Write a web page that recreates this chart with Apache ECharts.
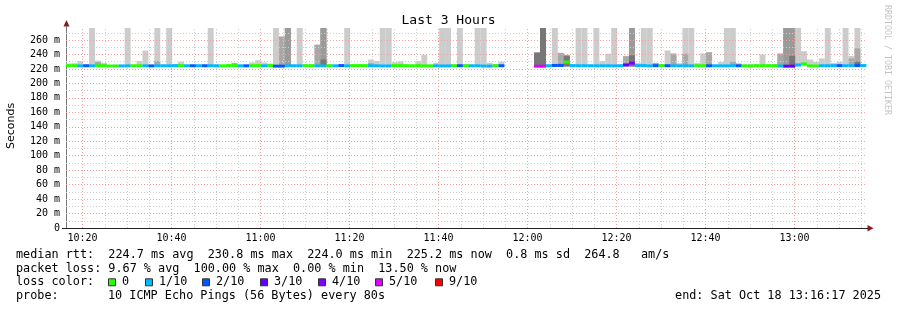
<!DOCTYPE html>
<html><head><meta charset="utf-8">
<script src="https://cdn.jsdelivr.net/npm/echarts@6/dist/echarts.min.js"></script>
<style>html,body{margin:0;padding:0;background:#fff}#c{width:897px;height:310px}</style>
</head><body><div id="c"></div>
<script>
const _ = null;
// time frame (minutes after midnight)
const startMin = 10*60 + 16 + 17/60;      // 10:16:17
const endMin = startMin + 180;            // 13:16:17
const firstStepMin = 10*60 + 16 + 8/60;   // first RRD step start
const stepMin = 80/60;                    // 80 s step
const tickLabels = ['10:20','10:40','11:00','11:20','11:40','12:00','12:20','12:40','13:00'];
const yTickValues = [0,20,40,60,80,100,120,140,160,180,200,220,240,260];
const yMax = 276.6;
const smokeFloor = 223.5;

// median rtt (ms) per step
const medianRtt = [
224.5,224.5,224.2,224.4,224.3,224.5,224.5,224.0,224.0,224.2,
224.2,224.4,224.4,224.3,224.2,224.3,224.3,224.3,224.5,224.6,
224.3,224.4,224.4,224.4,224.4,224.2,224.3,224.6,224.6,224.2,
224.3,224.5,224.5,224.3,224.6,223.9,223.9,224.3,224.3,224.3,
224.5,224.5,224.2,224.2,224.5,224.3,224.6,224.2,224.6,224.6,
224.6,224.3,224.3,224.1,224.1,224.6,224.6,224.5,224.3,224.6,
224.2,224.2,224.3,224.1,224.1,224.5,224.4,224.5,224.3,224.3,
224.0,223.9,224.5,224.4,_,_,_,_,_,223.8,
223.8,224.4,224.8,224.8,229.5,224.6,224.4,224.4,224.4,224.3,
224.3,224.3,224.2,224.4,225.5,228.0,224.6,224.6,224.2,224.5,
224.6,224.4,224.3,224.3,224.2,224.2,224.5,224.5,224.3,224.3,
224.2,224.2,224.4,224.4,224.3,224.0,224.5,224.5,224.5,224.5,
224.0,223.8,223.8,225.5,227.0,224.3,224.0,224.4,224.4,224.4,
224.5,224.4,224.4,224.6,224.6];

// lost pings out of 10 per step
const lossCount = [
0,0,1,2,1,0,0,0,0,1,
1,0,0,1,2,1,1,1,1,0,
1,2,1,2,1,1,0,0,0,1,
2,0,0,1,0,2,2,1,1,1,
0,0,1,1,0,1,2,1,0,0,
0,1,1,1,1,0,0,0,0,0,
0,0,1,1,1,0,2,0,1,1,
1,1,0,2,10,10,10,10,10,5,
5,1,2,2,0,1,1,1,1,1,
1,1,1,1,3,4,1,1,1,2,
0,2,1,1,1,1,0,0,2,1,
1,1,1,2,0,0,0,0,0,0,
1,3,3,1,0,0,0,1,1,1,
2,1,1,2,1];

// smoke layers: top of each layer (ms), outermost (lightest) first
const smokeOuter = [
227.5,228,231,226,300,231.5,228.5,225.5,226,225.5,
300,225.5,231,245.5,225.5,300,226,300,226.5,230,
226,225.5,226,225.5,300,226.5,225.5,226,228.5,226,
225.5,229,232,229,227.5,300,265,300,226,300,
226,226,253.5,300,226,225.5,225.5,300,225.5,225.5,
225.5,233,231,300,300,229.5,230.5,226,226,231,
239.5,226,228.5,300,300,226,300,226.5,226,300,
300,228.5,226.5,230,_,_,_,_,_,242.5,
300,226,300,242.5,239.5,226,300,300,226,300,
231,241,300,226,238,300,228,300,300,228.5,
226,245.5,241.5,228,300,300,228,241.5,243,226,
229.5,300,300,228,226,227,226,240,226,226.5,
241.5,300,300,300,244.5,233,230,234.5,300,228,
230,300,238,300,227];
const smokeSecond = [
_,_,_,_,_,229.5,_,_,_,_,
_,_,_,_,_,231,_,_,_,_,
_,_,_,_,_,_,_,_,228,_,
_,_,_,_,_,_,264.5,300,_,_,
_,_,253.5,300,_,_,_,_,_,_,
_,228,_,_,_,_,_,_,_,_,
_,_,_,_,_,_,_,_,_,_,
_,_,_,_,_,_,_,_,_,242.5,
300,_,_,242,239,_,_,_,_,_,
_,_,_,_,237.5,300,_,_,_,228,
_,_,241,_,241,_,_,_,243,_,
_,_,230,_,_,_,_,_,_,_,
241,300,300,_,_,_,_,_,_,227,
_,_,234.5,248.5,_];
const smokeThird = [
_,_,_,_,_,_,_,_,_,_,
_,_,_,_,_,_,_,_,_,_,
_,_,_,_,_,_,_,_,_,_,
_,_,_,_,_,_,_,300,_,_,
_,_,_,300,_,_,_,_,_,_,
_,_,_,_,_,_,_,_,_,_,
_,_,_,_,_,_,_,_,_,_,
_,_,_,_,_,_,_,_,_,242.5,
300,_,_,_,238.5,_,_,_,_,_,
_,_,_,_,_,300,_,_,_,_,
_,_,_,_,_,_,_,_,_,_,
_,_,_,_,_,_,_,_,_,_,
_,300,300,_,_,_,_,_,_,_,
_,_,_,_,_];
const smokeInner = [
_,_,_,_,_,_,_,_,_,_,
_,_,_,_,_,_,_,_,_,_,
_,_,_,_,_,_,_,_,_,_,
_,_,_,_,_,_,_,_,_,_,
_,_,_,233,_,_,_,_,_,_,
_,_,_,_,_,_,_,_,_,_,
_,_,_,_,_,_,_,_,_,_,
_,_,_,_,_,_,_,_,_,242.5,
300,_,_,_,238,_,_,_,_,_,
_,_,_,_,_,239,_,_,_,_,
_,_,_,_,_,_,_,_,_,_,
_,_,_,_,_,_,_,_,_,_,
_,_,238,_,_,_,_,_,_,_,
_,_,_,230,_];

const statLines = [
  'median rtt:  224.7 ms avg  230.8 ms max  224.0 ms min  225.2 ms now  0.8 ms sd  264.8   am/s',
  'packet loss: 9.67 % avg  100.00 % max  0.00 % min  13.50 % now'
];
const lossLegendLabels = ['0','1/10','2/10','3/10','4/10','5/10','9/10'];
const lossLegendColors = ['#26ff00','#00b8ff','#0059ff','#5e00ff','#7e00ff','#dd00ff','#ff0000'];
const probeText = '10 ICMP Echo Pings (56 Bytes) every 80s';
const endText = 'end: Sat Oct 18 13:16:17 2025';

// ---------- rendering ----------
const lossColorFor = n => n >= 9 ? '#ff0000' : n >= 5 ? '#dd00ff' : lossLegendColors[n];
const toMin = s => { const p = s.split(':'); return (+p[0])*60 + (+p[1]); };
const fmtMin = v => { const h = Math.floor(v/60), m = Math.round(v - h*60); return String(h).padStart(2,'0') + ':' + String(m).padStart(2,'0'); };
const tickMins = tickLabels.map(toMin);

function layerData(tops) {
  const out = [];
  tops.forEach((t, i) => {
    if (t == null) return;
    const t0 = firstStepMin + i*stepMin;
    out.push([t0, t0 + stepMin, smokeFloor, t]);
  });
  return out;
}
const medData = [];
medianRtt.forEach((m, i) => {
  if (m == null) return;
  const t0 = firstStepMin + i*stepMin;
  medData.push([t0, t0 + stepMin, m, lossCount[i]]);
});

function rectRender(color) {
  return function (params, api) {
    const a = api.coord([api.value(0), api.value(3)]);
    const b = api.coord([api.value(1), api.value(2)]);
    return { type: 'rect', shape: { x: a[0], y: a[1], width: b[0]-a[0], height: b[1]-a[1] },
             style: { fill: color } };
  };
}
function medRender(params, api) {
  const a = api.coord([api.value(0), api.value(2)]);
  const b = api.coord([api.value(1), api.value(2)]);
  return { type: 'rect', shape: { x: a[0], y: a[1]-1.5, width: b[0]-a[0], height: 3 },
           style: { fill: lossColorFor(api.value(3)) } };
}

// grid lines
const gridLines = [];
const redStyle = { color: '#f2a0a0', width: 1, type: [1, 2] };
const grayStyle = { color: '#cfcfcf', width: 1, type: [1, 2] };
for (let m = Math.ceil(startMin/5)*5; m <= endMin; m += 5) {
  gridLines.push({ xAxis: m, lineStyle: (m % 20 === 0) ? redStyle : grayStyle });
}
for (let v = 10; v < yMax; v += 10) {
  gridLines.push({ yAxis: v, lineStyle: (v % 20 === 0) ? redStyle : grayStyle });
}

const mono = "'DejaVu Sans Mono', monospace";
const FS = 11.8;
const graphics = [];
const lineY = [255, 268.5, 282.3, 296];
statLines.forEach((s, k) => graphics.push({ type: 'text', x: 16, y: lineY[k],
  style: { text: s, font: FS + 'px ' + mono, fill: '#000', textVerticalAlign: 'middle', verticalAlign: 'middle' } }));
graphics.push({ type: 'text', x: 16, y: lineY[2],
  style: { text: 'loss color:', font: FS + 'px ' + mono, fill: '#000', textVerticalAlign: 'middle', verticalAlign: 'middle' } });
const boxX = [108, 145, 202, 260, 318, 375, 435];
lossLegendLabels.forEach((lab, k) => {
  graphics.push({ type: 'rect', shape: { x: boxX[k] + 0.5, y: lineY[2] - 3.5, width: 7, height: 7 },
    style: { fill: lossLegendColors[k], stroke: '#333', lineWidth: 1 } });
  graphics.push({ type: 'text', x: boxX[k] + 14, y: lineY[2],
    style: { text: lab, font: FS + 'px ' + mono, fill: '#000', textVerticalAlign: 'middle', verticalAlign: 'middle' } });
});
graphics.push({ type: 'text', x: 16, y: lineY[3],
  style: { text: 'probe:', font: FS + 'px ' + mono, fill: '#000', textVerticalAlign: 'middle', verticalAlign: 'middle' } });
graphics.push({ type: 'text', x: 108, y: lineY[3],
  style: { text: probeText, font: FS + 'px ' + mono, fill: '#000', textVerticalAlign: 'middle', verticalAlign: 'middle' } });
graphics.push({ type: 'text', x: 881, y: lineY[3],
  style: { text: endText, font: FS + 'px ' + mono, fill: '#000', textAlign: 'right', align: 'right', textVerticalAlign: 'middle', verticalAlign: 'middle' } });
graphics.push({ type: 'text', x: 11, y: 126, rotation: Math.PI/2,
  style: { text: 'Seconds', font: "11px 'DejaVu Sans', sans-serif", fill: '#000', textAlign: 'center', align: 'center', textVerticalAlign: 'middle', verticalAlign: 'middle' } });
graphics.push({ type: 'text', x: 887.5, y: 60, rotation: -Math.PI/2,
  style: { text: 'RRDTOOL / TOBI OETIKER', font: '8.3px ' + mono, fill: '#c4c4c4', textAlign: 'center', align: 'center', textVerticalAlign: 'middle', verticalAlign: 'middle' } });
graphics.push({ type: 'polygon', shape: { points: [[63.5, 26.5], [69.5, 26.5], [66.5, 20]] }, style: { fill: '#8b1a1a' } });
graphics.push({ type: 'polygon', shape: { points: [[867.5, 225], [867.5, 231.5], [873.5, 228.2]] }, style: { fill: '#8b1a1a' } });
graphics.push({ type: 'line', shape: { x1: 66.5, y1: 26, x2: 66.5, y2: 228 }, style: { stroke: '#777', lineWidth: 1 } });
graphics.push({ type: 'line', shape: { x1: 62, y1: 228.5, x2: 868, y2: 228.5 }, style: { stroke: '#222', lineWidth: 1 } });

const chart = echarts.init(document.getElementById('c'), null, { renderer: 'canvas' });
chart.setOption({
  animation: false,
  backgroundColor: '#ffffff',
  title: { text: 'Last 3 Hours', left: 'center', top: 9,
    textStyle: { fontFamily: mono, fontSize: 13, fontWeight: 'normal', color: '#000' } },
  grid: { left: 66, top: 28, width: 801, height: 200 },
  xAxis: { type: 'value', min: startMin, max: endMin,
    axisLine: { show: false }, axisTick: { show: false }, splitLine: { show: false },
    axisLabel: { customValues: tickMins, formatter: v => fmtMin(v), margin: 5,
      fontFamily: mono, fontSize: 10, color: '#000' } },
  yAxis: { type: 'value', min: 0, max: yMax,
    axisLine: { show: false }, axisTick: { show: false }, splitLine: { show: false },
    axisLabel: { customValues: yTickValues, formatter: v => v === 0 ? '0' : v + ' m', margin: 6,
      fontFamily: mono, fontSize: 10, color: '#000' } },
  graphic: graphics,
  series: [
    { type: 'line', data: [], z: 0, silent: true,
      markLine: { silent: true, symbol: 'none', label: { show: false }, animation: false, data: gridLines } },
    { type: 'custom', z: 2, clip: true, encode: { x: [0,1], y: [2,3] }, data: layerData(smokeOuter), renderItem: rectRender('#cccccc') },
    { type: 'custom', z: 3, clip: true, encode: { x: [0,1], y: [2,3] }, data: layerData(smokeSecond), renderItem: rectRender('#a8a8a8') },
    { type: 'custom', z: 4, clip: true, encode: { x: [0,1], y: [2,3] }, data: layerData(smokeThird), renderItem: rectRender('#9a9a9a') },
    { type: 'custom', z: 5, clip: true, encode: { x: [0,1], y: [2,3] }, data: layerData(smokeInner), renderItem: rectRender('#777777') },
    { type: 'custom', z: 6, clip: true, encode: { x: [0,1], y: [2] }, data: medData, renderItem: medRender }
  ]
});
</script></body></html>
